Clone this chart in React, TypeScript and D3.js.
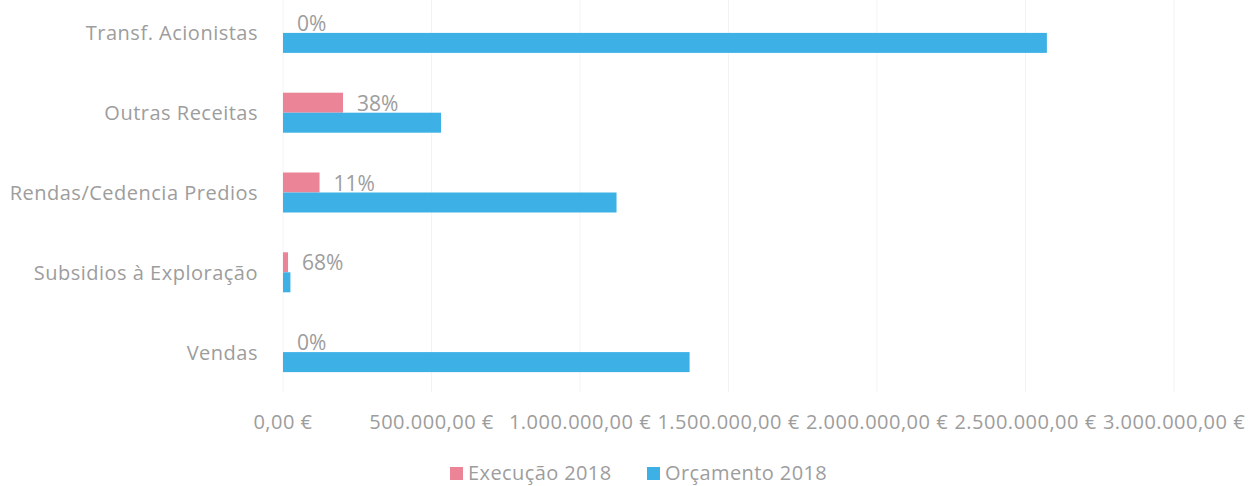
import React from "react";
import * as d3 from "d3";

const categories = ["Transf. Acionistas", "Outras Receitas", "Rendas/Cedencia Predios", "Subsidios à Exploração", "Vendas"];
const execucao = [0, 202000, 123000, 17000, 0];
const orcamento = [2572000, 532000, 1123000, 25000, 1369000];
const ticks = [0, 500000, 1000000, 1500000, 2000000, 2500000, 3000000];
const seriesNames = ["Execução 2018", "Orçamento 2018"];

const PINK = "#EC8498";
const BLUE = "#3DB1E6";
const TEXT = "#9d9d9d";
const FONT = "'Open Sans', sans-serif";

const locale = d3.formatLocale({ decimal: ",", thousands: ".", grouping: [3], currency: ["", " €"] });
const fmt = locale.format(",.2f");

export default function App() {
  const W = 1248, H = 486;
  const x = d3.scaleLinear().domain([0, 3000000]).range([283, 1174]);
  const y = d3.scaleBand().domain(categories).range([-7, 392]).paddingInner(0);
  const barH = 20;
  return (
    <svg width={W} height={H} style={{ position: "absolute", left: 0, top: 0, background: "#fff" }} fontFamily={FONT}>
      {ticks.map((t) => (
        <line key={"g" + t} x1={x(t)} x2={x(t)} y1={0} y2={392} stroke="#f3f3f3" strokeWidth={1} />
      ))}
      {categories.map((c, i) => {
        const cy = (y(c) as number) + y.bandwidth() / 2;
        const pct = orcamento[i] ? Math.round((execucao[i] / orcamento[i]) * 100) : 0;
        return (
          <g key={c}>
            <text x={258} y={cy} textAnchor="end" dominantBaseline="central" fontSize={20} letterSpacing={0.5} fill={TEXT}>{c}</text>
            <rect x={x(0)} y={cy - barH} width={x(execucao[i]) - x(0)} height={barH} fill={PINK} />
            <rect x={x(0)} y={cy} width={x(orcamento[i]) - x(0)} height={barH} fill={BLUE} />
            <text x={x(execucao[i]) + 14} y={cy - barH / 2} dominantBaseline="central" fontSize={21} fill={TEXT}>{pct + "%"}</text>
          </g>
        );
      })}
      {ticks.map((t) => (
        <text key={"t" + t} x={x(t)} y={421} textAnchor="middle" dominantBaseline="central" fontSize={20} letterSpacing={0.5} fill={TEXT}>{fmt(t) + " €"}</text>
      ))}
      <g>
        <rect x={450} y={467} width={13} height={13} fill={PINK} />
        <text x={468} y={472} dominantBaseline="central" fontSize={20} letterSpacing={0.4} fill={TEXT}>{seriesNames[0]}</text>
        <rect x={647} y={467} width={13} height={13} fill={BLUE} />
        <text x={665} y={472} dominantBaseline="central" fontSize={20} letterSpacing={0.4} fill={TEXT}>{seriesNames[1]}</text>
      </g>
    </svg>
  );
}
